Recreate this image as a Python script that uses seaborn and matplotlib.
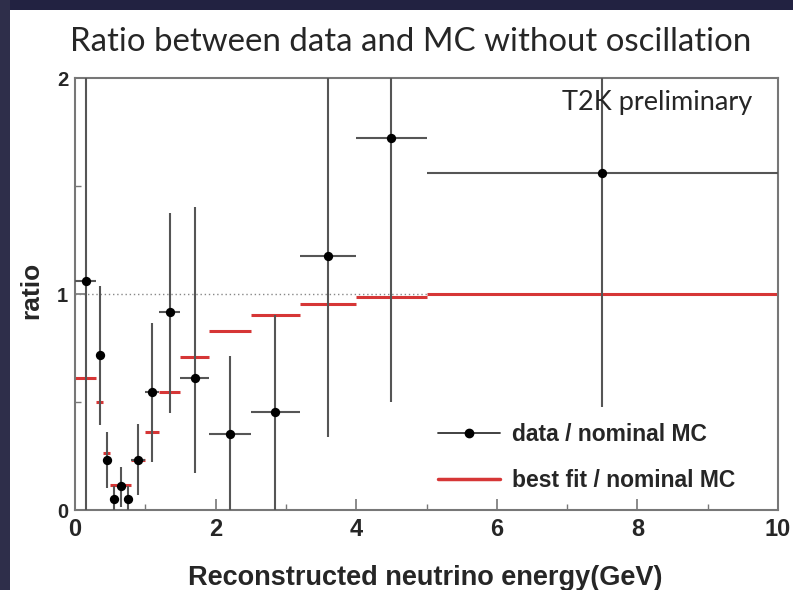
import numpy as np
import pandas as pd
import matplotlib
matplotlib.use("Agg")
import matplotlib.pyplot as plt
import seaborn as sns
from matplotlib.lines import Line2D
from matplotlib.patches import Rectangle
from matplotlib.ticker import MultipleLocator

# ---- data ----
bin_lo = [0.0, 0.3, 0.4, 0.5, 0.6, 0.7, 0.8, 1.0, 1.2, 1.5, 1.9, 2.5, 3.2, 4.0, 5.0]
bin_hi = [0.3, 0.4, 0.5, 0.6, 0.7, 0.8, 1.0, 1.2, 1.5, 1.9, 2.5, 3.2, 4.0, 5.0, 10.0]
data_ratio = [1.06, 0.716, 0.231, 0.052, 0.111, 0.052, 0.231, 0.548, 0.915, 0.613,
              0.35, 0.455, 1.176, 1.72, 1.56]
data_low = [0.0, 0.393, 0.10, 0.0, 0.015, 0.0, 0.07, 0.224, 0.447, 0.17,
            0.0, 0.0, 0.34, 0.50, 0.478]
data_high = [2.6, 1.037, 0.362, 0.11, 0.20, 0.11, 0.40, 0.866, 1.376, 1.404,
             0.714, 0.903, 2.8, 3.2, 3.0]
bestfit_ratio = [0.61, 0.50, 0.262, 0.116, 0.116, 0.116, 0.231, 0.362, 0.548, 0.71,
                 0.83, 0.903, 0.952, 0.988, 0.999]

x_ticks = [0, 2, 4, 6, 8, 10]
y_ticks = [0, 1, 2]

df = pd.DataFrame({
    "lo": bin_lo, "hi": bin_hi, "ratio": data_ratio,
    "low": data_low, "high": data_high, "fit": bestfit_ratio,
})
df["center"] = (df["lo"] + df["hi"]) / 2

# ---- style ----
sns.set_style("ticks")
plt.rcParams["font.family"] = ["Liberation Sans", "DejaVu Sans"]

W, H = 793, 590
fig = plt.figure(figsize=(W / 100, H / 100), dpi=100)
fig.patch.set_facecolor("white")
dark = "#222241"
fig.patches.append(Rectangle((0, 1 - 10 / H), 1, 10 / H, transform=fig.transFigure,
                             facecolor=dark, edgecolor="none", zorder=-5))
fig.patches.append(Rectangle((0, 0), 10 / W, 1, transform=fig.transFigure,
                             facecolor="#2e2e4a", edgecolor="none", zorder=-5))

ax = fig.add_axes([75 / W, (H - 510) / H, (778 - 75) / W, (510 - 78) / H])

err_col = "#555555"
fit_col = "#d63636"

# reference line at 1
ax.axhline(1.0, color="#888888", lw=1.0, ls=(0, (1, 2)), zorder=1)

# best fit steps
ax.hlines(df["fit"], df["lo"], df["hi"], colors=fit_col, lw=2.2, zorder=2)

# data error bars
ax.errorbar(df["center"], df["ratio"],
            xerr=[df["center"] - df["lo"], df["hi"] - df["center"]],
            yerr=[df["ratio"] - df["low"], df["high"] - df["ratio"]],
            fmt="none", ecolor=err_col, elinewidth=1.5, capsize=0, zorder=3)
sns.scatterplot(data=df, x="center", y="ratio", ax=ax, color="black", s=45,
                edgecolor="black", linewidth=0, zorder=4, legend=False)

ax.set_xlim(0, 10)
ax.set_ylim(0, 2)
ax.set_xticks(x_ticks)
ax.set_yticks(y_ticks)
ax.xaxis.set_minor_locator(MultipleLocator(1))
ax.yaxis.set_minor_locator(MultipleLocator(0.5))
for s in ax.spines.values():
    s.set_color("#777777")
    s.set_linewidth(1.5)
ax.tick_params(which="major", direction="in", length=8, width=1.2, color="#777777")
ax.tick_params(which="minor", direction="in", length=4, width=1.0, color="#777777")
ax.tick_params(axis="x", which="major", labelsize=17, pad=6)
ax.tick_params(axis="y", which="major", labelsize=14.5, pad=5)
for lab in ax.get_xticklabels() + ax.get_yticklabels():
    lab.set_fontweight("bold")

ax.set_xlabel("Reconstructed neutrino energy(GeV)", fontsize=19.5, fontweight="bold")
ax.xaxis.set_label_coords(0.498, -0.127)
ax.set_ylabel("ratio", fontsize=19, fontweight="bold")
ax.yaxis.set_label_coords(-0.045, 0.508)

# title and annotation
fig.text(411 / W, 1 - 42 / H, "Ratio between data and MC without oscillation",
         ha="center", va="center", fontsize=23.8, family=["Lato", "DejaVu Sans"])
ax.text(0.964, 0.944, "T2K preliminary", transform=ax.transAxes, ha="right", va="center",
        fontsize=19.5, family=["Lato", "DejaVu Sans"])

handles = [
    Line2D([], [], color="#333333", lw=1.3, marker="o", ms=6, mfc="black", mec="black"),
    Line2D([], [], color=fit_col, lw=2.5),
]
leg = ax.legend(handles, ["data / nominal MC", "best fit / nominal MC"],
                loc="center left", bbox_to_anchor=(0.516, 0.122), frameon=False,
                borderpad=0, borderaxespad=0, handlelength=2.7, handletextpad=0.52,
                labelspacing=1.0, prop={"size": 16.5, "weight": "bold"})

fig.savefig("out.png", dpi=100)
